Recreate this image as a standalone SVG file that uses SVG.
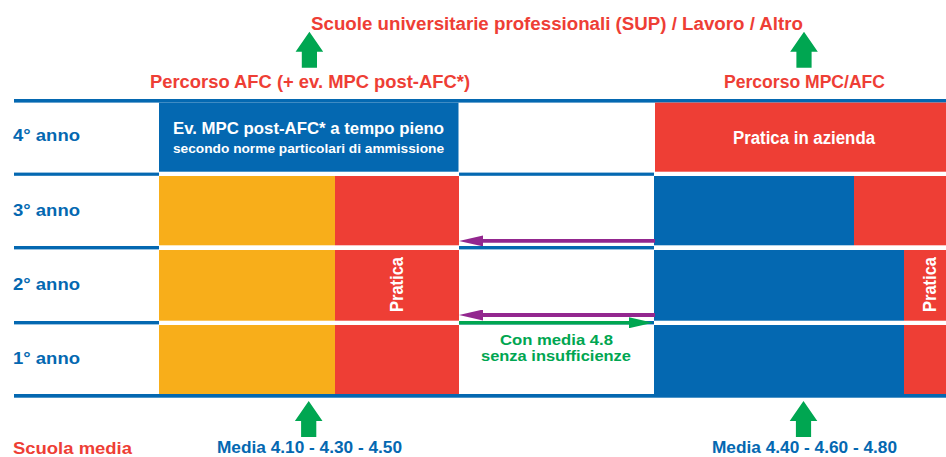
<svg xmlns="http://www.w3.org/2000/svg" width="946" height="457" viewBox="0 0 946 457">
<style>
text{font-family:"Liberation Sans Narrow","Liberation Sans",Arial,sans-serif;font-weight:bold}
.red{fill:#ee3e35}.blue{fill:#0468b1}.org{fill:#f8ae1a}.grn{fill:#00a651}.wt{fill:#ffffff}
.rt{fill:#ee3e35;font-size:18px}.bt{fill:#0468b1;font-size:17px}.gt{fill:#00a651;font-size:15px}
.line{fill:#0468b1}
</style>
<defs>
<path id="up" d="M0,0 L13.8,20 L7.6,20 L7.6,36 L-7.6,36 L-7.6,20 L-13.8,20 Z" fill="#00a651"/>
<marker id="hp" viewBox="0 0 24 11" markerWidth="24" markerHeight="11" markerUnits="userSpaceOnUse" refX="8" refY="5.5" orient="auto"><path d="M0,0 L24,5.5 L0,11 Z" fill="#93278f"/></marker>
<marker id="hg" viewBox="0 0 24 11" markerWidth="24" markerHeight="11" markerUnits="userSpaceOnUse" refX="8" refY="5.5" orient="auto"><path d="M0,0 L24,5.5 L0,11 Z" fill="#00a651"/></marker>
</defs>

<g id="grid">
<rect class="line" x="14" y="99" width="932" height="3.6"/>
<rect class="line" x="14" y="172.6" width="145" height="3.2"/>
<rect class="line" x="459" y="172.6" width="195" height="3.2"/>
<rect class="line" x="14" y="246" width="145" height="3.4"/>
<rect class="line" x="459" y="246" width="195" height="3.4"/>
<rect class="line" x="14" y="321" width="145" height="3.4"/>
<rect class="line" x="459" y="321" width="195" height="3.4"/>
<rect class="line" x="14" y="394" width="932" height="3.7"/>
</g>

<g id="title"><text class="rt" x="311" y="29.5" textLength="492" lengthAdjust="spacingAndGlyphs">Scuole universitarie professionali (SUP) / Lavoro / Altro</text></g>
<g id="percorso-afc"><text class="rt" x="150" y="87.5" textLength="320" lengthAdjust="spacingAndGlyphs">Percorso AFC (+ ev. MPC post-AFC*)</text></g>
<g id="percorso-mpc"><text class="rt" x="724" y="87.5" textLength="161" lengthAdjust="spacingAndGlyphs">Percorso MPC/AFC</text></g>

<g id="years">
<text class="bt" x="13" y="140.7" textLength="67" lengthAdjust="spacingAndGlyphs">4° anno</text>
<text class="bt" x="13" y="216" textLength="67" lengthAdjust="spacingAndGlyphs">3° anno</text>
<text class="bt" x="13" y="290" textLength="67" lengthAdjust="spacingAndGlyphs">2° anno</text>
<text class="bt" x="13" y="364" textLength="67" lengthAdjust="spacingAndGlyphs">1° anno</text>
</g>

<g id="afc-4">
<rect class="blue" x="159" y="102.6" width="299.5" height="69.1"/>
<text class="wt" font-size="17" x="173" y="134" textLength="271" lengthAdjust="spacingAndGlyphs">Ev. MPC post-AFC* a tempo pieno</text>
<text class="wt" font-size="13" x="173" y="152.7" textLength="271" lengthAdjust="spacingAndGlyphs">secondo norme particolari di ammissione</text>
</g>
<g id="afc-school">
<rect class="org" x="159" y="176" width="176" height="69.3"/>
<rect class="org" x="159" y="250" width="176" height="70.7"/>
<rect class="org" x="159" y="325" width="176" height="69"/>
</g>
<g id="afc-pratica">
<rect class="red" x="335" y="176" width="124" height="69.3"/>
<rect class="red" x="335" y="250" width="124" height="70.7"/>
<rect class="red" x="335" y="325" width="124" height="69"/>
<text class="wt" font-size="18" transform="translate(403,312) rotate(-90)" textLength="55" lengthAdjust="spacingAndGlyphs">Pratica</text>
</g>

<g id="mpc-4">
<rect class="red" x="655" y="102.6" width="291" height="69.1"/>
<text class="wt" font-size="18" x="733" y="144" textLength="142" lengthAdjust="spacingAndGlyphs">Pratica in azienda</text>
</g>
<g id="mpc-school">
<rect class="blue" x="654" y="176" width="200" height="69.3"/>
<rect class="blue" x="654" y="250" width="250" height="70.7"/>
<rect class="blue" x="654" y="325" width="250" height="69"/>
</g>
<g id="mpc-pratica">
<rect class="red" x="854" y="176" width="92" height="69.3"/>
<rect class="red" x="904" y="250" width="42" height="70.7"/>
<rect class="red" x="904" y="325" width="42" height="69"/>
<text class="wt" font-size="18" transform="translate(936,312) rotate(-90)" textLength="55" lengthAdjust="spacingAndGlyphs">Pratica</text>
</g>

<g id="connectors">
<line x1="655" y1="240.9" x2="475" y2="240.9" stroke="#93278f" stroke-width="3.7" marker-end="url(#hp)"/>
<line x1="655" y1="315" x2="475" y2="315" stroke="#93278f" stroke-width="4" marker-end="url(#hp)"/>
<line x1="459" y1="322.7" x2="637" y2="322.7" stroke="#00a651" stroke-width="3.4" marker-end="url(#hg)"/>
<use href="#up" x="309.4" y="31.7"/>
<use href="#up" x="804" y="31.7"/>
<use href="#up" x="308.7" y="401" transform="translate(0,0)"/>
<use href="#up" x="803.5" y="401"/>
</g>

<g id="bridge-label">
<text class="gt" x="500" y="345" textLength="113" lengthAdjust="spacingAndGlyphs">Con media 4.8</text>
<text class="gt" x="481" y="360.5" textLength="150" lengthAdjust="spacingAndGlyphs">senza insufficienze</text>
</g>

<g id="scuola-media"><text class="rt" font-size="17" style="font-size:17px" x="13" y="453.5" textLength="119" lengthAdjust="spacingAndGlyphs">Scuola media</text></g>
<g id="media-afc"><text class="bt" style="font-size:16px" x="217" y="453" textLength="185" lengthAdjust="spacingAndGlyphs">Media 4.10 - 4.30 - 4.50</text></g>
<g id="media-mpc"><text class="bt" style="font-size:16px" x="712" y="453" textLength="185" lengthAdjust="spacingAndGlyphs">Media 4.40 - 4.60 - 4.80</text></g>
</svg>
